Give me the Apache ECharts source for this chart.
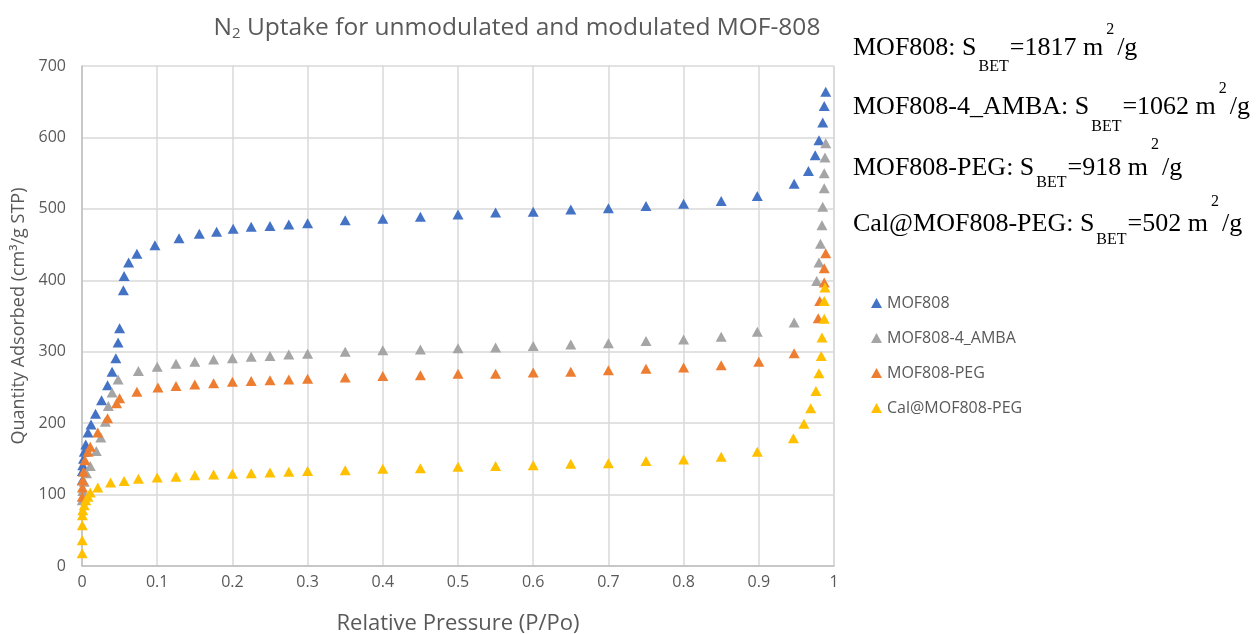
<!DOCTYPE html>
<html>
  <head>
    <meta charset="utf-8" />
    <title>N2 Uptake MOF-808</title>
    <script src="https://cdn.jsdelivr.net/npm/echarts@6/dist/echarts.min.js"></script>
    <style>
      html, body { margin: 0; padding: 0; background: #fff; }
    </style>
  </head>
  <body>
    <div id="main" style="width: 1258px; height: 634px"></div>
    <script type="text/javascript">
      // series names
      const seriesNames = ['MOF808', 'MOF808-4_AMBA', 'MOF808-PEG', 'Cal@MOF808-PEG'];
      const seriesColors = ['#4472C4', '#A5A5A5', '#ED7D31', '#FFC000'];

      // MOF808
      const mofP = [0.0003, 0.0006, 0.001, 0.002, 0.003, 0.005, 0.008, 0.012, 0.018, 0.026, 0.034, 0.040, 0.045, 0.048, 0.050, 0.055, 0.056, 0.062, 0.073, 0.097, 0.129, 0.156, 0.179, 0.201, 0.225, 0.25, 0.275, 0.30, 0.35, 0.40, 0.45, 0.50, 0.55, 0.60, 0.65, 0.70, 0.75, 0.80, 0.85, 0.898, 0.947, 0.966, 0.975, 0.980, 0.985, 0.987, 0.989];
      const mofQ = [120, 133, 141, 150, 160, 170, 187, 198, 213, 232, 253, 272, 291, 313, 333, 386, 406, 425, 437, 449, 459, 465, 468, 472, 475, 476, 478, 480, 484, 486, 489, 492, 495, 496, 499, 501, 504, 507, 511, 518, 535, 553, 575, 596, 621, 644, 664];

      // MOF808-4_AMBA
      const ambaP = [0.0003, 0.001, 0.003, 0.006, 0.011, 0.019, 0.025, 0.031, 0.035, 0.040, 0.048, 0.075, 0.10, 0.125, 0.15, 0.175, 0.20, 0.225, 0.25, 0.275, 0.30, 0.35, 0.40, 0.45, 0.50, 0.55, 0.60, 0.65, 0.70, 0.75, 0.80, 0.85, 0.898, 0.947, 0.977, 0.980, 0.982, 0.984, 0.985, 0.987, 0.987, 0.988, 0.989];
      const ambaQ = [92, 105, 118, 130, 140, 161, 180, 202, 224, 243, 261, 273, 279, 283, 286, 289, 291, 293, 294, 296, 297, 300, 302, 303, 305, 306, 308, 310, 312, 315, 317, 321, 328, 341, 399, 425, 451, 477, 503, 529, 550, 572, 592];

      // MOF808-PEG
      const pegP = [0.0003, 0.0006, 0.001, 0.002, 0.004, 0.008, 0.011, 0.021, 0.034, 0.046, 0.050, 0.073, 0.101, 0.125, 0.15, 0.175, 0.20, 0.225, 0.25, 0.275, 0.30, 0.35, 0.40, 0.45, 0.50, 0.55, 0.60, 0.65, 0.70, 0.75, 0.80, 0.85, 0.90, 0.947, 0.979, 0.981, 0.987, 0.987, 0.989];
      const pegQ = [97, 110, 120, 132, 148, 160, 167, 187, 207, 228, 235, 244, 250, 252, 254, 256, 258, 259, 260, 261, 262, 264, 266, 267, 269, 269, 271, 272, 274, 276, 278, 281, 286, 298, 347, 371, 397, 417, 438];

      // Cal@MOF808-PEG
      const calP = [0.0002, 0.0003, 0.0004, 0.0005, 0.001, 0.003, 0.005, 0.008, 0.011, 0.021, 0.038, 0.056, 0.075, 0.10, 0.125, 0.15, 0.175, 0.20, 0.225, 0.25, 0.275, 0.30, 0.35, 0.40, 0.45, 0.50, 0.55, 0.60, 0.65, 0.70, 0.75, 0.80, 0.85, 0.898, 0.946, 0.96, 0.969, 0.976, 0.980, 0.983, 0.984, 0.987, 0.987, 0.988];
      const calQ = [18, 36, 57, 71, 78, 85, 92, 97, 103, 110, 117, 119, 122, 124, 125, 127, 128, 129, 130, 131, 132, 133, 134, 136, 137, 139, 140, 141, 143, 144, 147, 149, 153, 160, 179, 199, 221, 245, 270, 294, 320, 346, 371, 390];

      // BET surface areas shown on the right
      const betLabels = ['MOF808', 'MOF808-4_AMBA', 'MOF808-PEG', 'Cal@MOF808-PEG'];
      const betValues = [1817, 1062, 918, 502];

      const xs = [mofP, ambaP, pegP, calP];
      const ys = [mofQ, ambaQ, pegQ, calQ];

      var chartDom = document.getElementById('main');
      var myChart = echarts.init(chartDom);
      var option;

      const gray = '#595959';
      const sans = '"Open Sans", sans-serif';
      const serif = '"Liberation Serif", serif';

      // annotation text, pieces placed with measured widths
      const ctx = document.createElement('canvas').getContext('2d');
      function textWidth(text, size) {
        ctx.font = size + 'px ' + serif;
        return ctx.measureText(text).width;
      }
      const baseLines = [57, 116, 177, 233];
      const supLines = [35, 94, 150, 207];
      const subLines = [72, 132, 188, 245];
      const bigSize = 26, subSize = 16, supSize = 16;
      const annotations = [];
      betLabels.forEach(function (label, i) {
        const p0 = label + ': S';
        const p2 = '=' + betValues[i] + ' m';
        const x = 853;
        const x1 = x + textWidth(p0, bigSize) + 2;
        const x2 = x1 + textWidth('BET', subSize) + 1;
        const x3 = x2 + textWidth(p2, bigSize) + 3;
        const x4 = x3 + textWidth('2', supSize) + 3;
        const piece = function (t, px, base, size) {
          return {
            type: 'text',
            x: px,
            y: base - size * 0.3375,
            style: { text: t, font: size + 'px ' + serif, fill: '#000', verticalAlign: 'middle' }
          };
        };
        annotations.push(piece(p0, x, baseLines[i], bigSize));
        annotations.push(piece('BET', x1, subLines[i], subSize));
        annotations.push(piece(p2, x2, baseLines[i], bigSize));
        annotations.push(piece('2', x3, supLines[i], supSize));
        annotations.push(piece('/g', x4, baseLines[i], bigSize));
      });

      option = {
        backgroundColor: '#fff',
        animation: false,
        title: {
          text: '{a|N}{s|2}{a| Uptake for unmodulated and modulated MOF-808}',
          left: 512,
          top: 8,
          textAlign: 'center',
          textStyle: {
            rich: {
              a: { fontFamily: sans, fontSize: 24.5, fontWeight: 'normal', color: gray, lineHeight: 28, verticalAlign: 'bottom' },
              s: { fontFamily: sans, fontSize: 15, fontWeight: 'normal', color: gray, lineHeight: 15, verticalAlign: 'bottom' }
            }
          }
        },
        legend: {
          orient: 'vertical',
          left: 866,
          top: 290,
          itemWidth: 11,
          itemHeight: 10,
          itemGap: 19,
          icon: 'triangle',
          textStyle: { fontFamily: sans, fontSize: 16, color: gray, lineHeight: 16 },
          data: seriesNames
        },
        // keep the plot box fixed even though the axis name sits near the edge
        grid: { left: 82, right: 424, top: 66, bottom: 68, outerBoundsMode: 'none' },
        xAxis: {
          type: 'value',
          min: 0,
          max: 1,
          interval: 0.1,
          name: 'Relative Pressure (P/Po)',
          nameLocation: 'middle',
          nameGap: 47,
          nameTextStyle: { fontFamily: sans, fontSize: 22, color: gray },
          axisLine: { lineStyle: { color: '#bfbfbf', width: 1.5 } },
          axisTick: { show: false },
          axisLabel: { fontFamily: sans, fontSize: 16, color: gray, margin: 8 },
          splitLine: { show: true, lineStyle: { color: '#d9d9d9', width: 1.5 } }
        },
        yAxis: {
          type: 'value',
          min: 0,
          max: 700,
          interval: 100,
          name: 'Quantity Adsorbed (cm³/g STP)',
          nameLocation: 'middle',
          nameGap: 54,
          nameTextStyle: { fontFamily: sans, fontSize: 18, color: gray },
          axisLine: { show: true, lineStyle: { color: '#bfbfbf', width: 1.5 } },
          axisTick: { show: false },
          axisLabel: { fontFamily: sans, fontSize: 16, color: gray, margin: 16 },
          splitLine: { show: true, lineStyle: { color: '#d9d9d9', width: 1.5 } }
        },
        graphic: annotations.concat([
          {
            type: 'line',
            shape: { x1: 834, y1: 66, x2: 834, y2: 566 },
            style: { stroke: '#d9d9d9', lineWidth: 1.5 }
          }
        ]),
        series: seriesNames.map(function (name, i) {
          return {
            name: name,
            type: 'scatter',
            symbol: 'triangle',
            symbolSize: [11, 10],
            itemStyle: { color: seriesColors[i], opacity: 1 },
            data: xs[i].map(function (p, j) {
              return [p, ys[i][j]];
            })
          };
        })
      };

      option && myChart.setOption(option);
    </script>
  </body>
</html>
